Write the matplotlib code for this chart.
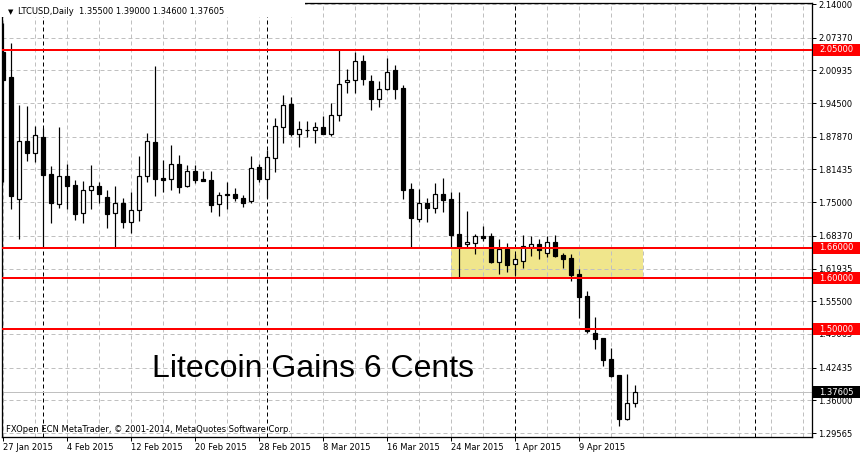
import matplotlib.pyplot as plt
from matplotlib.patches import Rectangle

# LTCUSD daily, 27 Jan 2015 .. 16 Apr 2015 (one bar per day)
opens = [2.0456, 1.9969, 1.7556, 1.8704, 1.8462, 1.8783, 1.8054, 1.7458, 1.8015, 1.7838,
         1.7281, 1.7734, 1.7818, 1.7596, 1.7281, 1.7484, 1.7115, 1.7340, 1.8015, 1.8684,
         1.7970, 1.7950, 1.8251, 1.7812, 1.8113, 1.7950, 1.7936, 1.7458, 1.7655, 1.7661,
         1.7576, 1.7523, 1.8192, 1.7962, 1.8363, 1.8985, 1.9426, 1.8848, 1.8914, 1.8914,
         1.8973, 1.8848, 1.9210, 1.9859, 1.9899, 2.0273, 1.9885, 1.9536, 1.9721, 2.0095,
         1.9741, 1.7765, 1.7163, 1.7484, 1.7391, 1.7661, 1.7562, 1.6867, 1.6671, 1.6702,
         1.6834, 1.6834, 1.6313, 1.6582, 1.6277, 1.6336, 1.6623, 1.6677, 1.6505, 1.6716,
         1.6460, 1.6401, 1.6086, 1.5653, 1.4925, 1.4826, 1.4413, 1.4092, 1.3238, 1.3550]
highs = [2.1026, 2.0639, 1.9412, 1.9392, 1.8999, 1.8960, 1.8218, 1.8979, 1.8251, 1.7936,
         1.7917, 1.8231, 1.7891, 1.7734, 1.7818, 1.7588, 1.7694, 1.8409, 1.8855, 2.0180,
         1.8330, 1.8625, 1.8422, 1.8225, 1.8225, 1.8119, 1.8107, 1.7706, 1.7891, 1.7773,
         1.7635, 1.8409, 1.8245, 1.8527, 1.9151, 1.9603, 1.9564, 1.9092, 1.9092, 1.9072,
         1.9190, 1.9452, 2.0509, 2.0115, 2.0450, 2.0396, 2.0003, 1.9885, 2.0332, 2.0200,
         1.9806, 1.7871, 1.7759, 1.7582, 1.7877, 1.7970, 1.7706, 1.7700, 1.7326, 1.6864,
         1.7025, 1.6887, 1.6775, 1.6706, 1.6484, 1.6854, 1.6834, 1.6769, 1.6834, 1.6854,
         1.6503, 1.6470, 1.6185, 1.5761, 1.5240, 1.4836, 1.4620, 1.4098, 1.4118, 1.3900]
lows = [1.7897, 1.7365, 1.6781, 1.8310, 1.8296, 1.6618, 1.7096, 1.7391, 1.7360, 1.7149,
        1.7096, 1.7360, 1.7478, 1.6997, 1.6612, 1.6997, 1.6899, 1.7135, 1.7903, 1.7627,
        1.7706, 1.7739, 1.7674, 1.7804, 1.7871, 1.7922, 1.7312, 1.7233, 1.7365, 1.7523,
        1.7405, 1.7489, 1.7897, 1.7582, 1.8088, 1.8670, 1.8796, 1.8592, 1.8788, 1.8670,
        1.8848, 1.8802, 1.9103, 1.9654, 1.9649, 1.9800, 1.9308, 1.9379, 1.9708, 1.9536,
        1.7562, 1.6612, 1.7115, 1.7115, 1.7293, 1.7312, 1.6604, 1.6027, 1.6623, 1.6486,
        1.6736, 1.6309, 1.6086, 1.6125, 1.6066, 1.6204, 1.6440, 1.6385, 1.6411, 1.6415,
        1.6200, 1.5948, 1.5226, 1.4925, 1.4610, 1.4281, 1.4065, 1.3098, 1.3217, 1.3460]
closes = [1.9904, 1.7627, 1.8704, 1.8474, 1.8816, 1.8041, 1.7489, 1.8015, 1.7824, 1.7273,
          1.7734, 1.7812, 1.7667, 1.7273, 1.7484, 1.7115, 1.7340, 1.8015, 1.8698, 1.7950,
          1.7942, 1.8245, 1.7804, 1.8107, 1.7942, 1.7922, 1.7444, 1.7635, 1.7635, 1.7588,
          1.7489, 1.8167, 1.7962, 1.8389, 1.8993, 1.9406, 1.8842, 1.8940, 1.8926, 1.8973,
          1.8848, 1.9210, 1.9820, 1.9899, 2.0273, 1.9930, 1.9536, 1.9721, 2.0056, 1.9733,
          1.7739, 1.7194, 1.7484, 1.7391, 1.7661, 1.7548, 1.6854, 1.6608, 1.6710, 1.6834,
          1.6801, 1.6313, 1.6588, 1.6273, 1.6377, 1.6647, 1.6667, 1.6549, 1.6716, 1.6444,
          1.6387, 1.6070, 1.5639, 1.4974, 1.4811, 1.4397, 1.4082, 1.3236, 1.3541, 1.37605]

levels = [2.05, 1.66, 1.60, 1.50]
last_price = 1.37605
zone_low, zone_high = 1.60, 1.66
zone_start, zone_end = 56, 80          # 24 Mar .. 17 Apr (bar index)
separators = [5, 33, 64, 94]           # 1 Feb, 1 Mar, 1 Apr, 1 May
yticks = [2.14, 2.0737, 2.00935, 1.945, 1.8787, 1.81435, 1.75, 1.6837,
          1.61935, 1.555, 1.49065, 1.42435, 1.36, 1.29565]
date_labels = ['27 Jan 2015', '4 Feb 2015', '12 Feb 2015', '20 Feb 2015', '28 Feb 2015',
               '8 Mar 2015', '16 Mar 2015', '24 Mar 2015', '1 Apr 2015', '9 Apr 2015']

PX = 0.72  # one pixel in points at dpi 100
small = dict(family='DejaVu Sans', size=6)

fig = plt.figure(figsize=(8.6, 4.54), dpi=100)
ax = fig.add_axes([2 / 860, 17 / 454, 810 / 860, 434 / 454])
ax.set_xlim(-0.125, 101.125)
ax.set_ylim(1.2878, 2.1420)

# grid
for v in yticks:
    ax.axhline(v, color='#c0c0c0', lw=PX, ls=(0, (4, 3)), zorder=1)
for i in range(0, 101, 4):
    ax.axvline(i, color='#c0c0c0', lw=PX, ls=(0, (4, 3)), zorder=1)
for i in separators:
    ax.axvline(i, color='black', lw=PX, ls=(0, (4, 3)), zorder=1.2)

# support zone
ax.add_patch(Rectangle((zone_start, zone_low), zone_end - zone_start, zone_high - zone_low,
                       facecolor='#f0e68c', edgecolor='none', zorder=0.5))

# candles
for i in range(len(opens)):
    o, h, l, c = opens[i], highs[i], lows[i], closes[i]
    ax.vlines(i, l, h, color='black', lw=PX * 1.2, zorder=3)
    ax.add_patch(Rectangle((i - 0.3, min(o, c)), 0.6, max(abs(c - o), 0.0004),
                           facecolor='white' if c >= o else 'black',
                           edgecolor='black', lw=PX * 1.2, zorder=4))

# horizontal levels
ax.axhline(last_price, color='#c0c0c0', lw=PX, zorder=2)
for lv in levels:
    ax.axhline(lv, color='red', lw=2 * PX, zorder=5)

# axes look
for s in ['top', 'right', 'bottom', 'left']:
    ax.spines[s].set_color('black')
    ax.spines[s].set_linewidth(PX * 1.3)
ax.yaxis.tick_right()
ax.set_yticks(yticks)
ax.set_yticklabels([f'{v:.5f}' for v in yticks], **small)
ax.set_xticks(range(0, len(date_labels) * 8, 8))
ax.set_xticklabels(date_labels, **small)
for lab in ax.get_xticklabels():
    lab.set_horizontalalignment('left')
ax.tick_params(axis='both', direction='out', length=3, width=PX, pad=1.5, colors='black')

# price labels on the right axis
ytr = ax.get_yaxis_transform()
half = 6 * (2.1420 - 1.2878) / 434
for lv, bg in [(v, 'red') for v in levels] + [(last_price, 'black')]:
    ax.add_patch(Rectangle((1 + 1 / 810, lv - half), 47 / 810, 2 * half, transform=ytr,
                           facecolor=bg, edgecolor='none', clip_on=False, zorder=10))
    ax.text(1 + 7 / 810, lv, f'{lv:.5f}', transform=ytr, color='white', va='center',
            ha='left', zorder=11, clip_on=False, **small)

# title block has a white background over the top of the chart
fig.patches.append(Rectangle((0, 1 - 17 / 454), 305 / 860, 17 / 454, transform=fig.transFigure,
                             facecolor='white', edgecolor='none', zorder=20))
fig.text(8 / 860, 1 - 13.7 / 454, '\u25bc', va='baseline', ha='left', family='DejaVu Sans',
         size=5, zorder=21)
fig.text(18 / 860, 1 - 13.7 / 454, 'LTCUSD,Daily  1.35500 1.39000 1.34600 1.37605',
         va='baseline', ha='left', zorder=21, **small)
fig.text(6 / 860, 1 - 432 / 454, 'FXOpen ECN MetaTrader, \u00a9 2001-2014, MetaQuotes Software Corp.',
         va='baseline', ha='left', **small)
fig.text(152 / 860, 1 - 377 / 454, 'Litecoin Gains 6 Cents', va='baseline', ha='left',
         family='Liberation Sans', size=23)

fig.savefig('out.png', dpi=100, facecolor='white')
